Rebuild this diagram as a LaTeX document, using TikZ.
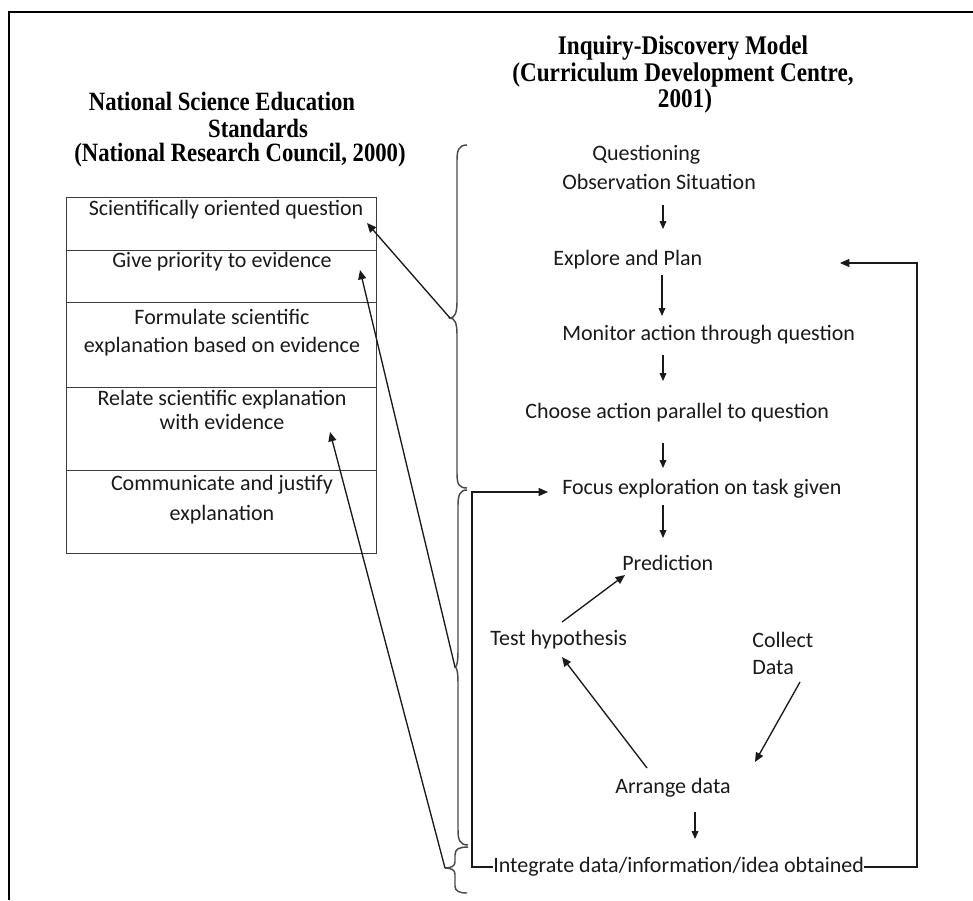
\documentclass[tikz,border=0pt]{standalone}
\usepackage{fontspec}
\setmainfont{Carlito}
\newfontfamily\headfont[FakeStretch=0.86]{Liberation Serif}
\usetikzlibrary{arrows.meta}
\definecolor{ink}{HTML}{1A1A1A}
\definecolor{brc}{HTML}{4A4A4A}
\begin{document}
\begin{tikzpicture}[x=0.75pt,y=-0.75pt,
  txt/.style={font=\fontsize{16.5pt}{20pt}\selectfont, text=ink, inner sep=0pt, anchor=west},
  ctxt/.style={font=\fontsize{16.5pt}{20pt}\selectfont, text=ink, inner sep=0pt},
  head/.style={font=\headfont\bfseries\fontsize{19.8pt}{22pt}\selectfont, text=black, inner sep=0pt},
  headr/.style={font=\headfont\bfseries\fontsize{20.2pt}{22pt}\selectfont, text=black, inner sep=0pt},
  arr/.style={draw=ink, line width=1pt, -{Triangle[length=7pt,width=6pt]}},
  varr/.style={draw=ink, line width=1pt, -{Triangle[length=6pt,width=5pt]}},
  brace/.style={draw=brc, line width=1.1pt},
  rowbox/.style={draw=ink!85, line width=1pt, minimum width=232.5pt, anchor=north west, inner sep=0pt},
  frame/.style={draw=black, line width=2pt}
]
\useasboundingbox (0,0) rectangle (973,900);
\fill[white] (0,0) rectangle (973,900);
% outer frame (top and left edges)
\draw[frame] (973,12) -- (9,12) -- (9,900);

% headings
\node[head] (hl1) at (222,101) {National Science Education};
\node[head] (hl2) at (258,128) {Standards};
\node[head] (hl3) at (240,155) {(National Research Council, 2000)};
\node[headr] (hr1) at (683,48) {Inquiry-Discovery Model};
\node[headr] (hr2) at (683,75) {(Curriculum Development Centre,};
\node[headr] (hr3) at (685,101) {2001)};

% table
\node[rowbox, minimum height=39.75pt] (r1) at (66,197) {};
\node[rowbox, minimum height=39pt] (r2) at (66,250) {};
\node[rowbox, minimum height=63.75pt] (r3) at (66,302) {};
\node[rowbox, minimum height=62.25pt] (r4) at (66,387) {};
\node[rowbox, minimum height=62.25pt] (r5) at (66,470) {};
\node[ctxt] (t1) at (226,210) {Scientifically oriented question};
\node[ctxt] (t2) at (222,262) {Give priority to evidence};
\node[ctxt] (t3a) at (222,317) {Formulate scientific};
\node[ctxt] (t3b) at (222,347) {explanation based on evidence};
\node[ctxt] (t4a) at (222,400) {Relate scientific explanation};
\node[ctxt] (t4b) at (222,422) {with evidence};
\node[ctxt] (t5a) at (222,485) {Communicate and justify};
\node[ctxt] (t5b) at (222,515) {explanation};

% right flow texts
\node[txt] (ques) at (592,155) {Questioning};
\node[txt] (obs) at (562,182) {Observation Situation};
\node[txt] (expl) at (553,260) {Explore and Plan};
\node[txt] (mon) at (562,335) {Monitor action through question};
\node[txt] (cho) at (525,413) {Choose action parallel to question};
\node[txt] (foc) at (562,489) {Focus exploration on task given};
\node[txt] (pred) at (622,563) {Prediction};
\node[txt] (test) at (490,640) {Test hypothesis};
\node[txt] (col) at (752,640) {Collect};
\node[txt] (dat) at (752,668) {Data};
\node[txt] (arrg) at (615,788) {Arrange data};
\node[txt] (integ) at (493,867) {Integrate data/information/idea obtained};

% braces
\draw[brace] (467,145) .. controls (459,145) and (457,150) .. (457,160) -- (457,302)
  .. controls (457,312) and (455,318) .. (450,318)
  .. controls (455,318) and (457,324) .. (457,334) -- (457,474)
  .. controls (457,484) and (459,488) .. (467,488);
\draw[brace] (467,490) .. controls (460,490) and (458,495) .. (458,505) -- (458,651)
  .. controls (458,661) and (457,667) .. (455,667)
  .. controls (457,667) and (458,673) .. (458,683) -- (458,830)
  .. controls (458,840) and (460,845) .. (468,845);
\draw[brace] (468,847) .. controls (459,847) and (455,849) .. (455,855) -- (455,862)
  .. controls (455,866) and (451,868) .. (445,868)
  .. controls (451,868) and (455,870) .. (455,874) -- (455,886)
  .. controls (455,891) and (459,893) .. (467,893);
\coordinate (b1) at (450,318);
\coordinate (b2) at (455,667);
\coordinate (b3) at (445,868);
\coordinate (e1) at (367,223);
\coordinate (e2) at (360,270);
\coordinate (e4) at (330,432);
\draw[arr] (b1) -- (e1);
\draw[arr] (b2) -- (e2);
\draw[arr] (b3) -- (e4);

% vertical flow arrows
\coordinate (v1s) at (663,205); \coordinate (v1e) at (663,229);
\coordinate (v2s) at (662,275); \coordinate (v2e) at (662,316);
\coordinate (v3s) at (663,355); \coordinate (v3e) at (663,381);
\coordinate (v4s) at (663,443); \coordinate (v4e) at (663,468);
\coordinate (v5s) at (663,505); \coordinate (v5e) at (663,538);
\coordinate (v6s) at (695,812); \coordinate (v6e) at (695,839);
\draw[varr] (v1s) -- (v1e);
\draw[varr] (v2s) -- (v2e);
\draw[varr] (v3s) -- (v3e);
\draw[varr] (v4s) -- (v4e);
\draw[varr] (v5s) -- (v5e);
\draw[varr] (v6s) -- (v6e);

% cycle arrows
\coordinate (th1) at (562,622); \coordinate (pr1) at (625,575);
\coordinate (ar1) at (647,768); \coordinate (th2) at (562,657);
\coordinate (cd1) at (800,682); \coordinate (ar2) at (755,762);
\draw[arr] (th1) -- (pr1);
\draw[arr] (ar1) -- (th2);
\draw[arr] (cd1) -- (ar2);

% feedback loops
\coordinate (rc) at (917,263); \coordinate (rt) at (840,263);
\coordinate (lc) at (472,492); \coordinate (lt) at (548,492);
\draw[arr] (integ.east) -| (rc) -- (rt);
\draw[arr] (integ.west) -| (lc) -- (lt);
\end{tikzpicture}
\end{document}
